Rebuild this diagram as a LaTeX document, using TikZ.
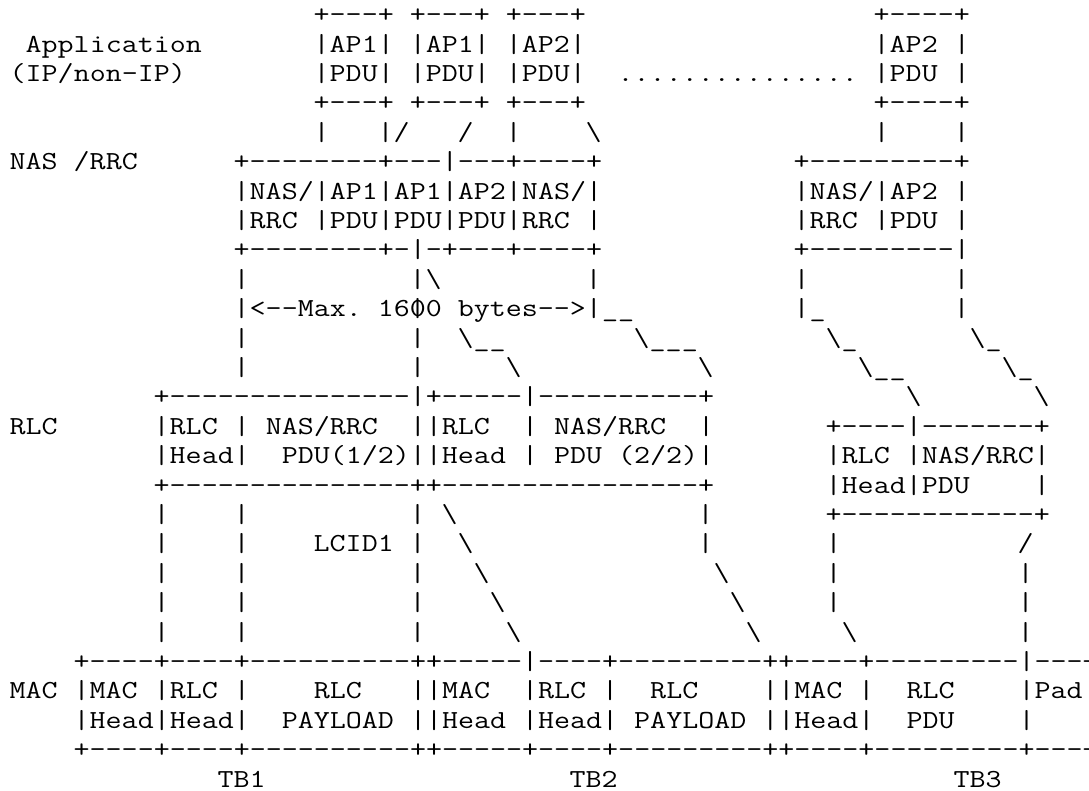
\documentclass[tikz,border=0pt]{standalone}
\usepackage{fontspec}
\setmonofont{Latin Modern Mono}[FakeStretch=1.1961]
\tikzset{asc/.style={anchor=base west, inner sep=0pt, outer sep=0pt,
  font=\ttfamily\fontsize{26pt}{29.4pt}\selectfont, text=black}}
\newcommand\asciiat[3]{\node[asc] (r#1c#2) at ({9.7pt+16pt*#2},{-22.7pt-29.4pt*#1}) {#3};}
\newcommand\bs{\textbackslash}
\begin{document}
\begin{tikzpicture}
\fill[white] (0,0) rectangle (1089pt,-790pt);
\useasboundingbox (0,0) rectangle (1089pt,-790pt);
% row 0
\asciiat{0}{19}{+---+~+---+~+---+}
\asciiat{0}{54}{+----+}
% row 1
\asciiat{1}{1}{Application}
\asciiat{1}{19}{|AP1|~|AP1|~|AP2|}
\asciiat{1}{54}{|AP2~|}
% row 2
\asciiat{2}{0}{(IP/non-IP)}
\asciiat{2}{19}{|PDU|~|PDU|~|PDU|}
\asciiat{2}{38}{...............}
\asciiat{2}{54}{|PDU~|}
% row 3
\asciiat{3}{19}{+---+~+---+~+---+}
\asciiat{3}{54}{+----+}
% row 4
\asciiat{4}{19}{|}
\asciiat{4}{23}{|/}
\asciiat{4}{28}{/}
\asciiat{4}{31}{|}
\asciiat{4}{36}{\bs}
\asciiat{4}{54}{|}
\asciiat{4}{59}{|}
% row 5
\asciiat{5}{0}{NAS~/RRC}
\asciiat{5}{14}{+--------+---|---+----+}
\asciiat{5}{49}{+---------+}
% row 6
\asciiat{6}{14}{|NAS/|AP1|AP1|AP2|NAS/|}
\asciiat{6}{49}{|NAS/|AP2~|}
% row 7
\asciiat{7}{14}{|RRC~|PDU|PDU|PDU|RRC~|}
\asciiat{7}{49}{|RRC~|PDU~|}
% row 8
\asciiat{8}{14}{+--------+-|-+---+----+}
\asciiat{8}{49}{+---------|}
% row 9
\asciiat{9}{14}{|}
\asciiat{9}{25}{|\bs}
\asciiat{9}{36}{|}
\asciiat{9}{49}{|}
\asciiat{9}{59}{|}
% row 10
\asciiat{10}{14}{|<--Max.~1600~bytes-->|\_\_}
\asciiat{10}{25}{|}
\asciiat{10}{49}{|\_}
\asciiat{10}{59}{|}
% row 11
\asciiat{11}{14}{|}
\asciiat{11}{25}{|}
\asciiat{11}{28}{\bs\_\_}
\asciiat{11}{39}{\bs\_\_\_}
\asciiat{11}{51}{\bs\_}
\asciiat{11}{60}{\bs\_}
% row 12
\asciiat{12}{14}{|}
\asciiat{12}{25}{|}
\asciiat{12}{31}{\bs}
\asciiat{12}{43}{\bs}
\asciiat{12}{53}{\bs\_\_}
\asciiat{12}{62}{\bs\_}
% row 13
\asciiat{13}{9}{+---------------|+-----|----------+}
\asciiat{13}{56}{\bs}
\asciiat{13}{64}{\bs}
% row 14
\asciiat{14}{0}{RLC}
\asciiat{14}{9}{|RLC~|~NAS/RRC~~||RLC~~|~NAS/RRC~~|}
\asciiat{14}{51}{+----|-------+}
% row 15
\asciiat{15}{9}{|Head|~~PDU(1/2)||Head~|~PDU~(2/2)|}
\asciiat{15}{51}{|RLC~|NAS/RRC|}
% row 16
\asciiat{16}{9}{+---------------++----------------+}
\asciiat{16}{51}{|Head|PDU~~~~|}
% row 17
\asciiat{17}{9}{|}
\asciiat{17}{14}{|}
\asciiat{17}{25}{|}
\asciiat{17}{27}{\bs}
\asciiat{17}{43}{|}
\asciiat{17}{51}{+------------+}
% row 18
\asciiat{18}{9}{|}
\asciiat{18}{14}{|}
\asciiat{18}{19}{LCID1}
\asciiat{18}{25}{|}
\asciiat{18}{28}{\bs}
\asciiat{18}{43}{|}
\asciiat{18}{51}{|}
\asciiat{18}{63}{/}
% row 19
\asciiat{19}{9}{|}
\asciiat{19}{14}{|}
\asciiat{19}{25}{|}
\asciiat{19}{29}{\bs}
\asciiat{19}{44}{\bs}
\asciiat{19}{51}{|}
\asciiat{19}{63}{|}
% row 20
\asciiat{20}{9}{|}
\asciiat{20}{14}{|}
\asciiat{20}{25}{|}
\asciiat{20}{30}{\bs}
\asciiat{20}{45}{\bs}
\asciiat{20}{51}{|}
\asciiat{20}{63}{|}
% row 21
\asciiat{21}{9}{|}
\asciiat{21}{14}{|}
\asciiat{21}{25}{|}
\asciiat{21}{31}{\bs}
\asciiat{21}{46}{\bs}
\asciiat{21}{52}{\bs}
\asciiat{21}{63}{|}
% row 22
\asciiat{22}{4}{+----+----+----------++-----|----+---------++----+---------|---+}
% row 23
\asciiat{23}{0}{MAC}
\asciiat{23}{4}{|MAC~|RLC~|~~~~RLC~~~||MAC~~|RLC~|~~RLC~~~~||MAC~|~~RLC~~~~|Pad|}
% row 24
\asciiat{24}{4}{|Head|Head|~~PAYLOAD~||Head~|Head|~PAYLOAD~||Head|~~PDU~~~~|~~~|}
% row 25
\asciiat{25}{4}{+----+----+----------++-----+----+---------++----+---------+---+}
% row 26
\asciiat{26}{13}{TB1}
\asciiat{26}{35}{TB2}
\asciiat{26}{59}{TB3}
\end{tikzpicture}
\end{document}
